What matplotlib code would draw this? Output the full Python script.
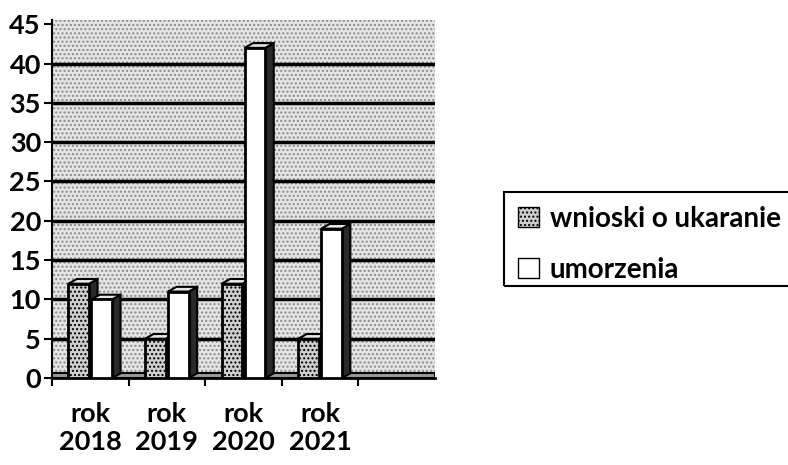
"""
Wnioski o ukaranie / umorzenia, rok 2018-2021 (3D-style bars)
"""
import matplotlib
matplotlib.use("Agg")
import matplotlib.pyplot as plt
from matplotlib.patches import Polygon, Patch, Rectangle

years = ["rok\n2018", "rok\n2019", "rok\n2020", "rok\n2021"]
wnioski = [12, 5, 12, 5]
umorzenia = [10, 11, 42, 19]
y_ticks = [0, 5, 10, 15, 20, 25, 30, 35, 40, 45]
n_slots = 5  # the chart keeps one empty category on the right

plt.rcParams['font.family'] = ['Lato', 'DejaVu Sans']
plt.rcParams['font.weight'] = 'bold'
plt.rcParams['hatch.linewidth'] = 1.0

GRAY = '#cfcfcf'
DX, DY = 0.11, 0.6  # 3D depth of the bars


def bar3d(ax, x, h, w, face, hatch):
    """Draw a bar with a dark side and a light top, like the old Excel 3D bars"""
    ax.bar(x, h, w, color=face, edgecolor='black', linewidth=2, hatch=hatch, zorder=4)
    left, right = x - w / 2, x + w / 2
    side = Polygon([(right, 0), (right + DX, DY), (right + DX, h + DY), (right, h)],
                   closed=True, facecolor='#2a2a2a', edgecolor='black', lw=1.5, zorder=3)
    top = Polygon([(left, h), (left + DX, h + DY), (right + DX, h + DY), (right, h)],
                  closed=True, facecolor='#e6e6e6', edgecolor='black', lw=1.5, zorder=3)
    ax.add_patch(side)
    ax.add_patch(top)


def main():
    fig = plt.figure(figsize=(7.88, 4.65), dpi=100)
    ax = fig.add_axes([0.066, 0.187, 0.486, 0.771])

    # textured back wall
    ax.patch.set_facecolor('#e4e4e4')
    ax.patch.set_hatch('....')
    ax.patch.set_edgecolor('#8a8a8a')

    for y in y_ticks[1:-1]:
        ax.axhline(y, color='black', lw=2.5, zorder=1)
    # floor slab
    ax.axhspan(0, DY, facecolor='#9a9a9a', edgecolor='black', lw=1.5, zorder=2)

    w = 0.27
    for i in range(len(years)):
        bar3d(ax, i + 0.35, wnioski[i], w, GRAY, '....')
        bar3d(ax, i + 0.65, umorzenia[i], w, 'white', None)

    ax.set_xlim(0, n_slots)
    ax.set_ylim(0, 45.6)
    ax.set_yticks(y_ticks)
    ax.set_yticklabels([str(v) for v in y_ticks], fontsize=19.5, fontweight='bold')
    ax.tick_params(axis='y', length=6, width=1.5, pad=2)

    ax.set_xticks([i + 0.5 for i in range(len(years))])
    ax.set_xticklabels(years, fontsize=19.5, fontweight='bold', linespacing=1.2)
    ax.set_xticks(range(n_slots), minor=True)
    ax.tick_params(axis='x', which='major', length=0, pad=17)
    ax.tick_params(axis='x', which='minor', length=6, width=1.5)

    for s in ['top', 'right']:
        ax.spines[s].set_visible(False)
    ax.spines['left'].set_linewidth(1.5)
    ax.spines['bottom'].set_linewidth(2)

    handles = [Patch(facecolor=GRAY, edgecolor='black', hatch='....', label='wnioski o ukaranie'),
               Patch(facecolor='white', edgecolor='black', label='umorzenia')]
    leg = fig.legend(handles=handles, loc='upper left', bbox_to_anchor=(504 / 788, 1 - 192 / 465),
                     fontsize=20, frameon=False,
                     handlelength=0.75, handleheight=0.75, handletextpad=0.4,
                     labelspacing=0.9, borderpad=0.5, borderaxespad=0)
    for t in leg.get_texts():
        t.set_fontweight('bold')
    # legend box runs off the right edge in the original
    fig.patches.append(Rectangle((504 / 788, 1 - 286 / 465), 0.5, 94 / 465, transform=fig.transFigure,
                                 fill=False, edgecolor='black', lw=1.5))

    fig.savefig('out.png', dpi=100)


main()
